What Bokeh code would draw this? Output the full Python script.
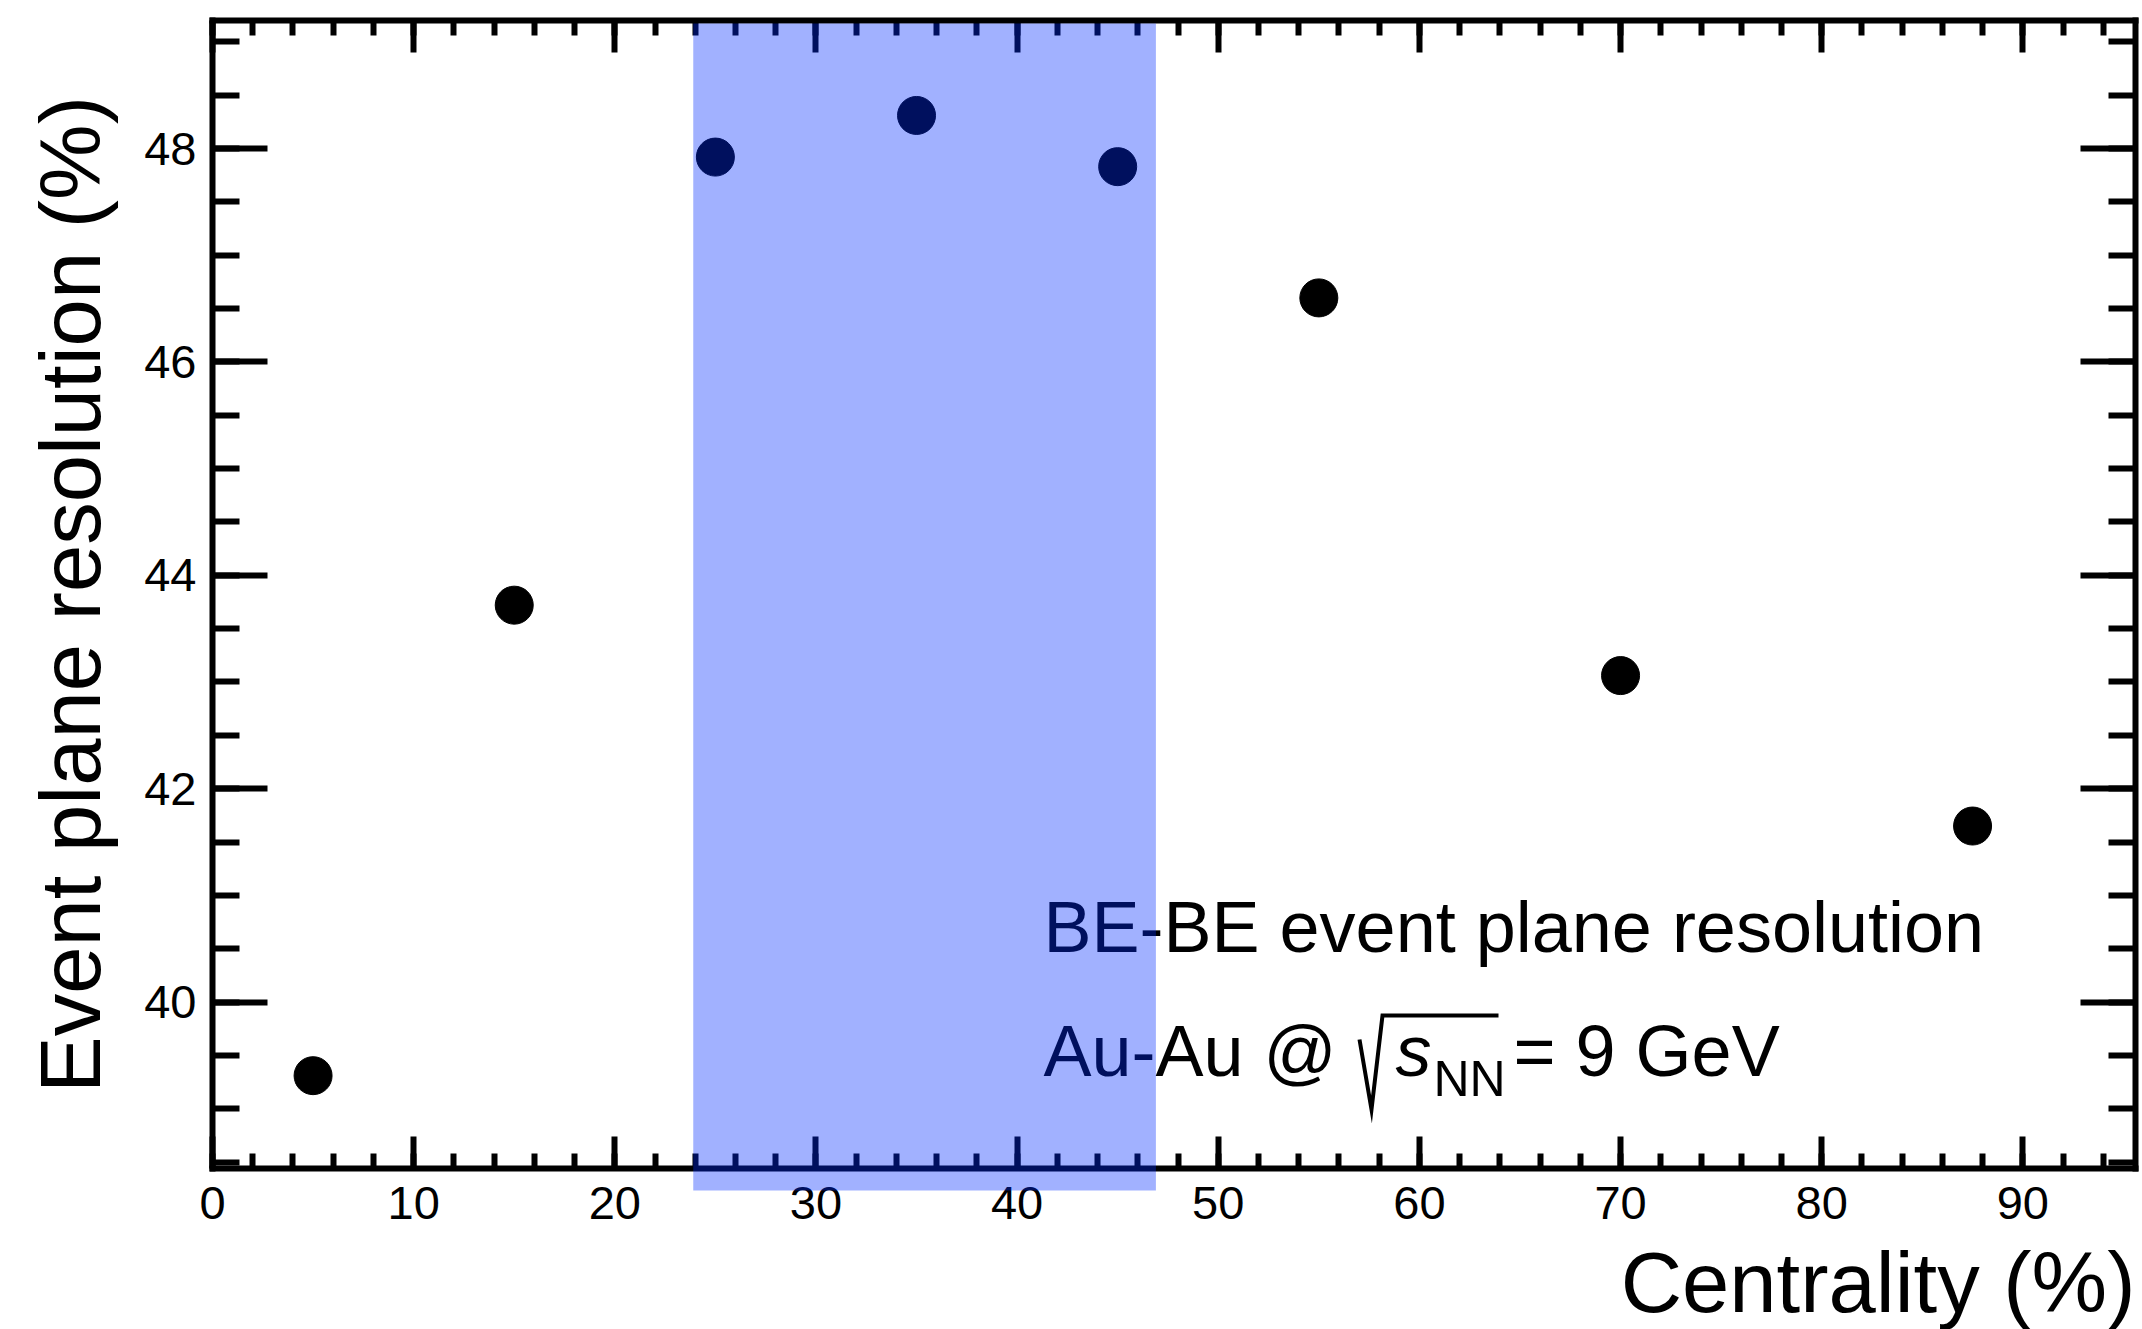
import math
from bokeh.plotting import figure
from bokeh.models import (LinearAxis, SingleIntervalTicker, BoxAnnotation, Label,
                          Range1d, CustomJSTickFormatter)
from bokeh.embed import file_html
from bokeh.resources import INLINE

# ---- data ----
centrality = [5, 15, 25, 35, 45, 55, 70, 87.5]
resolution = [39.31, 43.72, 47.92, 48.31, 47.83, 46.60, 43.06, 41.65]
band_left = [23.9]
band_right = [46.9]
x_lo, x_hi = 0.0, 95.6
y_lo, y_hi = 38.44, 49.20
x_tick_step = 10
y_tick_step = 2

FONT = "Liberation Sans"
W, H = 2142, 1329
BOX_L, BOX_R, BOX_T, BOX_B = 212, 2135, 20, 1168   # axis box in canvas px
PX_X = (BOX_R - BOX_L) / (x_hi - x_lo)             # px per data unit
PX_Y = (BOX_B - BOX_T) / (y_hi - y_lo)


def dx(px):   # canvas px -> data x
    return x_lo + (px - BOX_L) / PX_X


def dy(py):   # canvas py -> data y
    return y_hi - (py - BOX_T) / PX_Y


# the plotting frame covers the whole canvas; axes sit at fixed locations
p = figure(width=W, height=H,
           x_range=Range1d(dx(0), dx(W)), y_range=Range1d(dy(H), dy(0)),
           output_backend="svg", toolbar_location=None,
           min_border=0, min_border_left=0, min_border_right=0,
           min_border_top=0, min_border_bottom=0,
           background_fill_color="white", border_fill_color="white")
p.xgrid.grid_line_color = None
p.ygrid.grid_line_color = None
p.outline_line_color = None

xt = SingleIntervalTicker(interval=x_tick_step, num_minor_ticks=5)
yt = SingleIntervalTicker(interval=y_tick_step, num_minor_ticks=4)
blank = CustomJSTickFormatter(code="return ''")
xb = (x_lo - 3 / PX_X, x_hi + 3 / PX_X)
yb = (y_lo - 3 / PX_Y, y_hi + 3 / PX_Y)


def style(ax, major_in, minor_in):
    ax.axis_line_color = "black"
    ax.axis_line_width = 6
    ax.major_tick_in = major_in
    ax.major_tick_out = 0
    ax.minor_tick_in = minor_in
    ax.minor_tick_out = 0
    ax.major_tick_line_width = 6
    ax.minor_tick_line_width = 6
    ax.major_tick_line_color = "black"
    ax.minor_tick_line_color = "black"
    ax.major_label_text_font = FONT
    ax.major_label_text_font_size = "47px"
    ax.major_label_text_color = "black"


xa = p.xaxis[0]
xa.ticker = xt
style(xa, 32, 15)
xa.major_label_standoff = 18
xa.fixed_location = y_lo
xa.bounds = xb

ya = p.yaxis[0]
ya.ticker = yt
style(ya, 55, 27)
ya.major_label_standoff = 16
ya.fixed_location = x_lo
ya.bounds = yb

top = LinearAxis(ticker=xt, formatter=blank)
style(top, 32, 15)
top.major_label_text_font_size = "1px"
top.major_label_standoff = 0
top.fixed_location = y_hi
top.bounds = xb
p.add_layout(top, "above")

right = LinearAxis(ticker=yt, formatter=blank)
style(right, 55, 27)
right.major_label_text_font_size = "1px"
right.major_label_standoff = 0
right.fixed_location = x_hi
right.bounds = yb
p.add_layout(right, "right")

# data points
p.scatter(centrality, resolution, marker="circle", size=38,
          fill_color="black", line_color="black")


def lab(x, y, text, size_px, style="normal", align="left", angle=0.0):
    # Label anchor sits 0.375 em from the baseline, towards the cap height
    sh = 0.375 * size_px
    if angle:
        x = x - sh / PX_X
    else:
        y = y + sh / PX_Y
    p.add_layout(Label(x=x, y=y, text=text, text_font=FONT,
                       text_font_size=f"{size_px}px", text_font_style=style,
                       text_color="black", text_baseline="alphabetic",
                       text_align=align, angle=angle))


# axis titles
lab(x_hi, dy(1314), "Centrality (%)", 85, align="right")
lab(dx(102), dy(594), "Event plane resolution (%)", 85, align="center",
    angle=math.pi / 2)

# text block
TX = dx(1043)
L1 = dy(953)
L2 = dy(1077)
lab(TX, L1, "BE-BE event plane resolution", 72)
lab(TX, L2, "Au-Au @", 72)
lab(TX + 352 / PX_X, L2, "s", 72, "italic")
lab(TX + 390 / PX_X, L2 - 20 / PX_Y, "NN", 50)
lab(TX + 470 / PX_X, L2, "= 9 GeV", 72)

# radical sign with its overline
rad_dx = [316, 328, 339, 455]
rad_dy = [38, -32, 62, 62]
p.line([TX + d / PX_X for d in rad_dx], [L2 + d / PX_Y for d in rad_dy],
       line_color="black", line_width=4, line_join="miter")

# highlighted band (semi-transparent overlay on top of everything)
band = BoxAnnotation(left=band_left[0], right=band_right[0],
                     top=y_hi - 3 / PX_Y, bottom=y_lo - 22 / PX_Y,
                     fill_color="#002bff", fill_alpha=0.37,
                     line_color=None, level="overlay")
p.add_layout(band)

open("out.html", "w").write(file_html(p, INLINE))
